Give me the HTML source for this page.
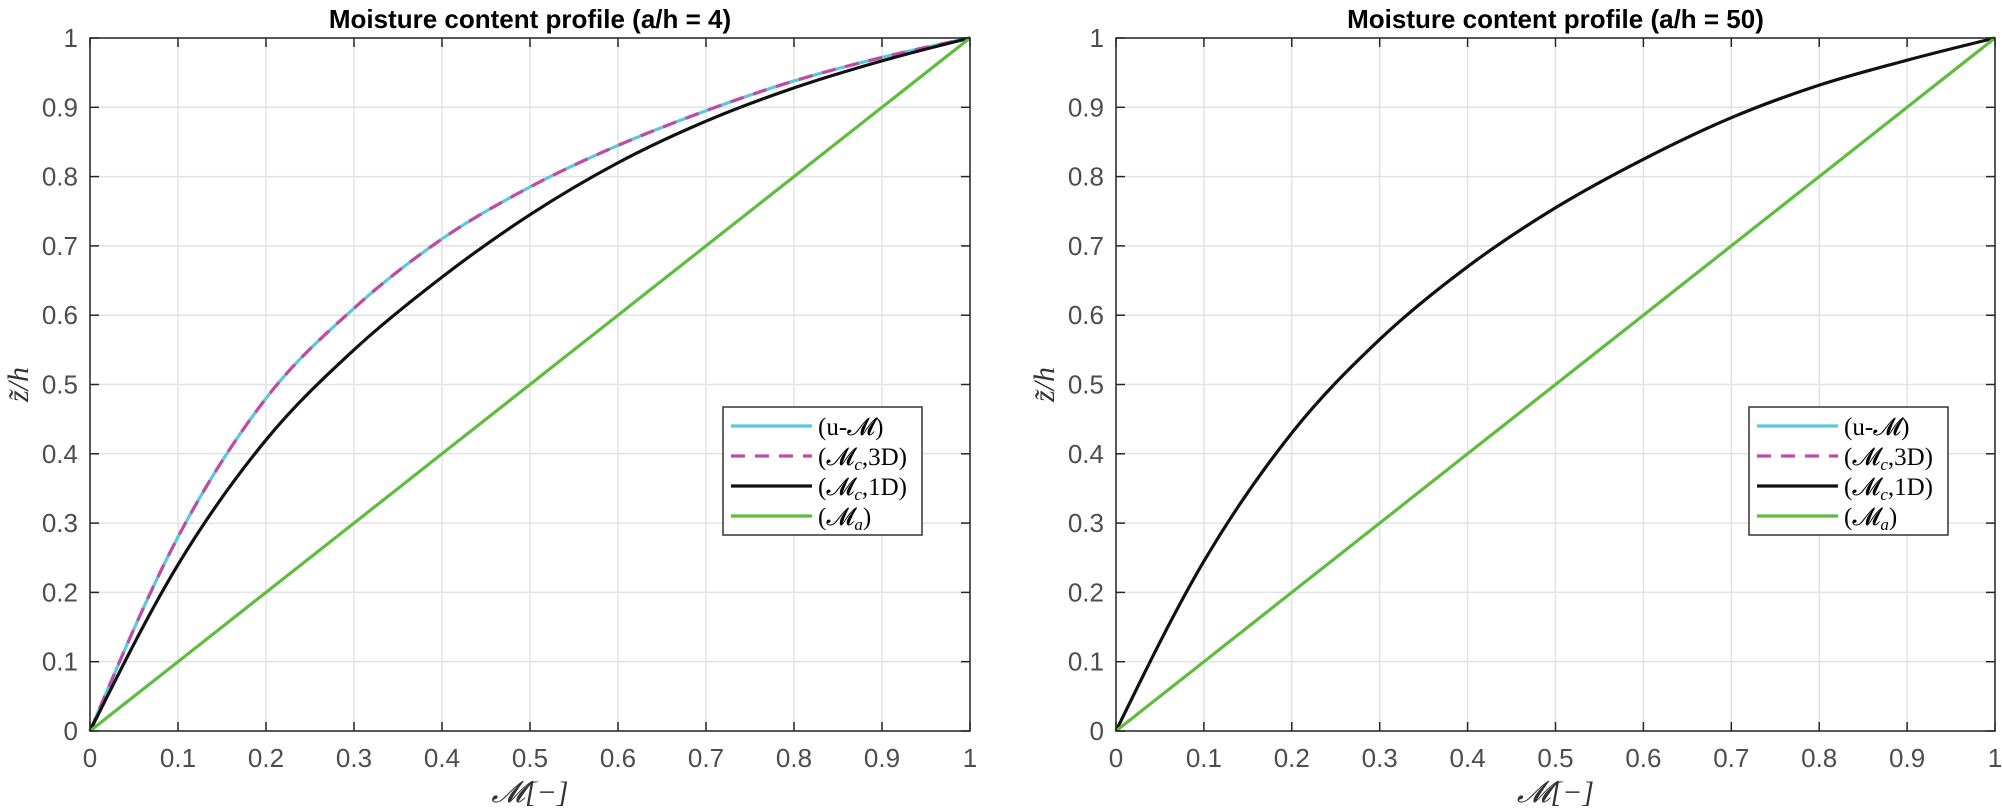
<!DOCTYPE html>
<html><head><meta charset="utf-8"><style>
body{margin:0;background:#fff;}
svg{display:block;font-family:"Liberation Sans",sans-serif;}
.tick{font-size:26px;fill:#4d4d4d;}
.title{font-size:26px;font-weight:bold;fill:#000;}
.lbl{font-family:"Liberation Serif",serif;font-style:italic;font-size:30px;fill:#333;}
.leg{font-family:"Liberation Serif",serif;font-size:25px;fill:#000;}
</style></head><body>
<svg id="chart" width="2002" height="811" viewBox="0 0 2002 811"></svg>
<script>
const ticks=[0,0.1,0.2,0.3,0.4,0.5,0.6,0.7,0.8,0.9,1];
const tickLabels=["0","0.1","0.2","0.3","0.4","0.5","0.6","0.7","0.8","0.9","1"];
const mGrid=[0,0.1,0.2,0.3,0.4,0.5,0.6,0.7,0.8,0.9,1];
const uM_left=[0,0.28,0.48,0.61,0.71,0.785,0.845,0.895,0.938,0.972,1];
const mc3D_left=[0,0.28,0.48,0.61,0.71,0.785,0.845,0.895,0.938,0.972,1];
const mc1D_left=[0,0.24,0.42,0.55,0.655,0.745,0.82,0.88,0.928,0.967,1];
const ma_left=[0,0.1,0.2,0.3,0.4,0.5,0.6,0.7,0.8,0.9,1];
const mc1D_right=[0,0.245,0.43,0.565,0.67,0.755,0.825,0.885,0.932,0.968,1];
const ma_right=[0,0.1,0.2,0.3,0.4,0.5,0.6,0.7,0.8,0.9,1];

const NS="http://www.w3.org/2000/svg";
const svg=document.getElementById('chart');
function mk(tag,attrs,parent){const e=document.createElementNS(NS,tag);for(const k in attrs)e.setAttribute(k,attrs[k]);(parent||svg).appendChild(e);return e;}
function path(xs,ys,sx,sy){
  const n=xs.length, m=new Array(n);
  for(let i=1;i<n-1;i++) m[i]=(ys[i+1]-ys[i-1])/(xs[i+1]-xs[i-1]);
  const s0=(ys[1]-ys[0])/(xs[1]-xs[0]), sn=(ys[n-1]-ys[n-2])/(xs[n-1]-xs[n-2]);
  m[0]=(3*s0-m[1])/2; m[n-1]=(3*sn-m[n-2])/2;
  let d=`M${sx(xs[0])},${sy(ys[0])}`;
  for(let i=0;i<n-1;i++){
    const h=xs[i+1]-xs[i];
    d+=` C${sx(xs[i]+h/3)},${sy(ys[i]+m[i]*h/3)} ${sx(xs[i+1]-h/3)},${sy(ys[i+1]-m[i+1]*h/3)} ${sx(xs[i+1])},${sy(ys[i+1])}`;
  }
  return d;
}
function panel(x0,x1,title,series,name){
  const y0=731,y1=38;
  const g=mk('g',{});
  
  
  const sx=v=>x0+v*(x1-x0), sy=v=>y0-v*(y0-y1);
  ticks.forEach((t,i)=>{
    const gx=mk('line',{x1:sx(t),x2:sx(t),y1:y0,y2:y1,stroke:'#e3e3e3','stroke-width':1.5},g);
    
    
    const gy=mk('line',{x1:x0,x2:x1,y1:sy(t),y2:sy(t),stroke:'#e3e3e3','stroke-width':1.5},g);
    
    
  });
  series.forEach(s=>{
    const p=mk('path',{d:path(mGrid,s.v,sx,sy),fill:'none',stroke:s.c,'stroke-width':3.2,'stroke-dasharray':s.dash||'none'},g);
    
    
  });
  const box=mk('rect',{x:x0,y:y1,width:x1-x0,height:y0-y1,fill:'none',stroke:'#262626','stroke-width':1.5},g);
  
  
  ticks.forEach((t,i)=>{
    mk('line',{x1:sx(t),x2:sx(t),y1:y0,y2:y0-9,stroke:'#262626','stroke-width':1.5},g);
    mk('line',{x1:sx(t),x2:sx(t),y1:y1,y2:y1+9,stroke:'#262626','stroke-width':1.5},g);
    mk('line',{x1:x0,x2:x0+9,y1:sy(t),y2:sy(t),stroke:'#262626','stroke-width':1.5},g);
    mk('line',{x1:x1,x2:x1-9,y1:sy(t),y2:sy(t),stroke:'#262626','stroke-width':1.5},g);
    const xt=mk('text',{x:sx(t),y:y0+36,'text-anchor':'middle',class:'tick'},g);
    xt.textContent=tickLabels[i];
    
    
    const yt=mk('text',{x:x0-12,y:sy(t)+9,'text-anchor':'end',class:'tick'},g);
    yt.textContent=tickLabels[i];
    
    
  });
  const tt=mk('text',{x:(x0+x1)/2,y:28,'text-anchor':'middle',class:'title'},g);
  tt.textContent=title;
  
  
  const xl=mk('text',{x:(x0+x1)/2,y:802,'text-anchor':'middle',class:'lbl'},g);
  xl.textContent='𝓜[−]';
  
  
  const yl=mk('text',{x:0,y:0,'text-anchor':'middle',class:'lbl',transform:`translate(${x0-62},${(y0+y1)/2}) rotate(-90)`},g);
  yl.textContent='z̃/h';
  
  
  const lx=x0+633, ly=407;
  const lg=mk('g',{},g);
  
  
  mk('rect',{x:lx,y:ly,width:199,height:128,fill:'#fff',stroke:'#333','stroke-width':1.5},lg);
  const items=[['#5bc8dc','none','(u-𝓜)',null,null],['#c04ba6','14 10','(𝓜','c',',3D)'],['#111','none','(𝓜','c',',1D)'],['#5ebd3e','none','(𝓜','a',')']];
  items.forEach((it,i)=>{
    const yy=ly+19+i*30;
    const e=mk('g',{},lg);
    
    
    mk('line',{x1:lx+8,x2:lx+89,y1:yy,y2:yy,stroke:it[0],'stroke-width':3.2,'stroke-dasharray':it[1]},e);
    const t=mk('text',{x:lx+95,y:yy+9,class:'leg'},e);
    t.textContent=it[2];
    if(it[3]){
      const sub=mk('tspan',{'font-size':'17','font-style':'italic',dy:5},t);sub.textContent=it[3];
      const rest=mk('tspan',{dy:-5},t);rest.textContent=it[4];
    }
  });
}
panel(90,970,'Moisture content profile (a/h = 4)',[
  {v:uM_left,c:'#5bc8dc',name:'series-u-m'},
  {v:mc3D_left,c:'#c04ba6',dash:'14 10',name:'series-mc-3d'},
  {v:mc1D_left,c:'#111',name:'series-mc-1d'},
  {v:ma_left,c:'#5ebd3e',name:'series-ma'}],'left-panel');
panel(1116,1995,'Moisture content profile (a/h = 50)',[
  {v:mc1D_right,c:'#111',name:'series-mc-1d'},
  {v:ma_right,c:'#5ebd3e',name:'series-ma'}],'right-panel');
</script>
</body></html>
